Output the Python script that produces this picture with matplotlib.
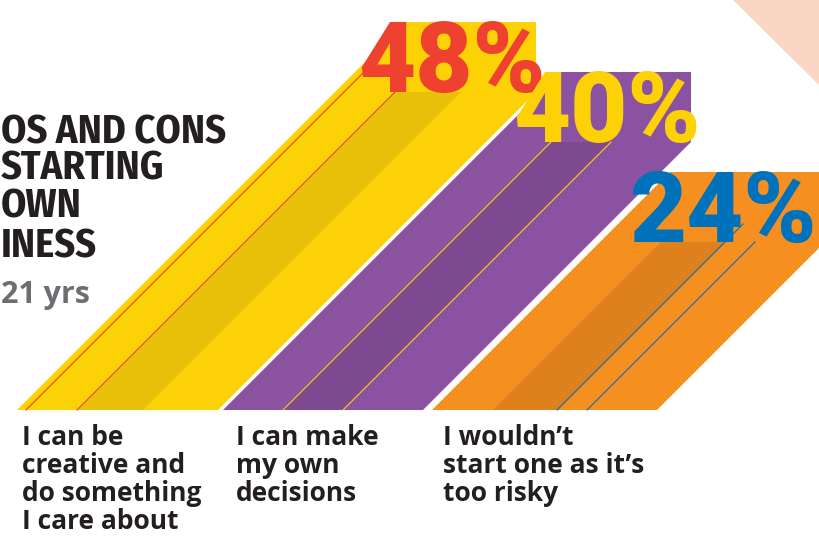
import matplotlib.pyplot as plt
from matplotlib.patches import Polygon

# data
labels = ["I can be\ncreative and\ndo something\nI care about",
          "I can make\nmy own\ndecisions",
          "I wouldn\u2019t\nstart one as it\u2019s\ntoo risky"]
values = [48, 40, 24]
title_lines = ["OS AND CONS", "STARTING", "OWN", "INESS"]
age_label = "21 yrs"

# colours
band_light = ['#FCD206', '#8B52A1', '#F58F1F']
band_dark = ['#E9C009', '#7D4A92', '#DE801C']
accent = ['#EF4130', '#FCD206', '#0072BC']

# layout (pixels)
base_y = 410
band_left = [17, 223, 432]
band_width = [201, 200, 225]
label_x = [22, 236, 443]
dark_stripe = [(60, 126), (60, 120), (61, 125)]
thin_lines = [[9, 60], [60, 120], [125, 155]]
line_extra = [[22, 0], [0, 0], [18, 0]]
scale, offset = 6.25, 18
text_h = 70

fig = plt.figure(figsize=(8.19, 5.37), dpi=100)
ax = fig.add_axes([0, 0, 1, 1])
ax.set_xlim(0, 819)
ax.set_ylim(537, 0)
ax.axis('off')

# peach corner
ax.add_patch(Polygon([(733, 0), (819, 0), (819, 85)], closed=True,
                     facecolor='#FAD6C4', edgecolor='none'))

for i, v in enumerate(values):
    h = offset + scale * v
    xl = band_left[i]
    xr = xl + band_width[i]
    yb = base_y - h
    pts = [(xl, base_y), (xr, base_y), (xr + h, yb), (xr + h, yb - text_h),
           (xl + h + text_h, yb - text_h)]
    ax.add_patch(Polygon(pts, closed=True, facecolor=band_light[i], edgecolor='none'))

    a, b = dark_stripe[i]
    ax.add_patch(Polygon([(xl + a, base_y), (xl + b, base_y), (xl + b + h, yb), (xl + a + h, yb)],
                         closed=True, facecolor=band_dark[i], edgecolor='none'))

    for o, e in zip(thin_lines[i], line_extra[i]):
        ax.plot([xl + o, xl + o + h + e], [base_y, yb - e], color=accent[i], lw=0.8)

    ax.text(min(xr + h + 10, 817), yb, f"{v}%", ha='right', va='baseline', fontsize=71,
            color=accent[i], fontweight='heavy', family='Roboto')

    ax.text(label_x[i], 424, labels[i], ha='left', va='top', fontsize=19,
            color='#231F20', fontweight='bold', family='Open Sans', linespacing=1.04)

# title block
title_y = [143, 180, 218, 258]
for s, y in zip(title_lines, title_y):
    ax.text(1, y, s, ha='left', va='baseline', fontsize=29, color='#231F20',
            fontweight='bold', family='Fira Sans Condensed')
ax.text(1, 303, age_label, ha='left', va='baseline', fontsize=22, color='#6D6E71',
        fontweight='bold', family='Open Sans')

fig.savefig('out.png', dpi=100)
